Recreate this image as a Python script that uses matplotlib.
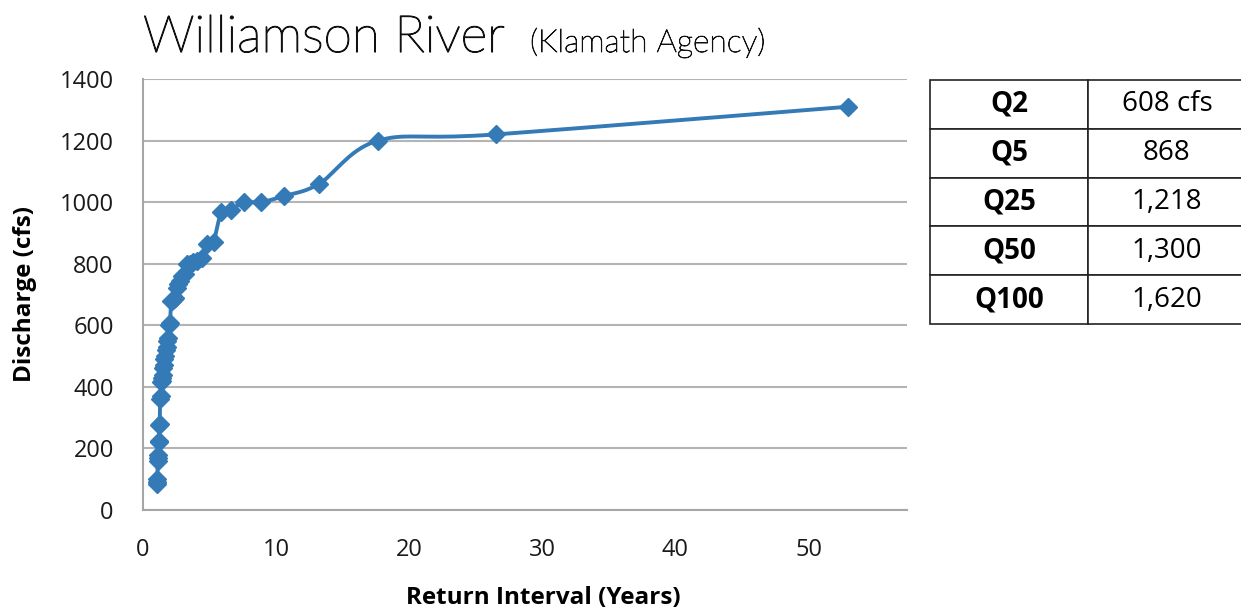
import numpy as np
import matplotlib.pyplot as plt
import matplotlib.patheffects as pe

# return interval (years) and annual peak discharge (cfs)
interval = [53.0, 26.5, 17.67, 13.25, 10.6, 8.83, 7.57, 6.63, 5.89, 5.3,
            4.82, 4.42, 4.08, 3.79, 3.53, 3.31, 3.12, 2.94, 2.79, 2.65,
            2.52, 2.41, 2.30, 2.21, 2.12, 2.04, 1.96, 1.89, 1.83, 1.77,
            1.71, 1.66, 1.61, 1.56, 1.51, 1.47, 1.43, 1.39, 1.36, 1.325,
            1.29, 1.26, 1.23, 1.20, 1.18, 1.15, 1.13, 1.10, 1.08, 1.06, 1.04]
discharge = [1310, 1220, 1200, 1060, 1020, 1000, 1000, 975, 968, 870,
             865, 820, 810, 805, 800, 800, 765, 760, 745, 735,
             720, 690, 685, 680, 680, 608, 600, 560, 550, 530,
             520, 500, 490, 470, 460, 440, 430, 420, 415, 370,
             360, 280, 275, 225, 220, 180, 170, 160, 100, 90, 85]

table_labels = ["Q2", "Q5", "Q25", "Q50", "Q100"]
table_values = ["608 cfs", "868", "1,218", "1,300", "1,620"]

blue = "#337ab7"
plt.rcParams["font.family"] = ["Open Sans", "DejaVu Sans"]


def smooth(x, y, n=20):
    # catmull-rom curve through the points, like excel's smoothed line
    x = np.asarray(x, float)
    y = np.asarray(y, float)
    px = np.concatenate([[x[0]], x, [x[-1]]])
    py = np.concatenate([[y[0]], y, [y[-1]]])
    t = np.linspace(0, 1, n)[:, None]
    out_x, out_y = [], []
    for i in range(1, len(px) - 2):
        for p, out in ((px, out_x), (py, out_y)):
            p0, p1, p2, p3 = p[i - 1], p[i], p[i + 1], p[i + 2]
            seg = 0.5 * ((2 * p1) + (-p0 + p2) * t
                         + (2 * p0 - 5 * p1 + 4 * p2 - p3) * t ** 2
                         + (-p0 + 3 * p1 - 3 * p2 + p3) * t ** 3)
            out.extend(seg.ravel())
    return out_x, out_y


fig = plt.figure(figsize=(12.41, 6.12), dpi=100)
ax = fig.add_axes([143 / 1241, 102 / 612, 764 / 1241, 431 / 612])

sx, sy = smooth(interval, discharge)
ax.plot(sx, sy, color=blue, lw=2.8, zorder=3)
ax.plot(interval, discharge, "D", color=blue, ms=9.5, zorder=4)

ax.set_xlim(0, 57.4)
ax.set_ylim(0, 1400)
ax.set_xticks(range(0, 60, 10))
ax.set_yticks(range(0, 1600, 200))
ax.grid(axis="y", color="#b4b4b4", lw=1.5)
ax.set_axisbelow(True)
for s in ("top", "right"):
    ax.spines[s].set_visible(False)
for s in ("left", "bottom"):
    ax.spines[s].set_color("#a6a6a6")
    ax.spines[s].set_linewidth(1.5)
ax.tick_params(length=0, labelsize=17, colors="#1a1a1a")
ax.tick_params(axis="x", pad=20)
ax.tick_params(axis="y", pad=21)

ax.set_xlabel("Return Interval (Years)", fontsize=17.5, fontweight="bold")
ax.set_ylabel("Discharge (cfs)", fontsize=17.5, fontweight="bold")
ax.xaxis.set_label_coords(0.5236, -0.204)
ax.xaxis.label.set_va("center")
ax.yaxis.set_label_coords(-0.155, 0.5)
ax.yaxis.label.set_va("center")

thicken = [pe.withStroke(linewidth=0.9, foreground="#111111")]
fig.text(143 / 1241, 1 - 52 / 612, "Williamson River", fontsize=37,
         family="Lato", fontweight="light", color="#111111", path_effects=thicken)
fig.text(530 / 1241, 1 - 52 / 612, "(Klamath Agency)", fontsize=23,
         family="Lato", fontweight="light", color="#111111",
         path_effects=[pe.withStroke(linewidth=0.6, foreground="#111111")])

tab_ax = fig.add_axes([930 / 1241, 1 - 324 / 612, 316 / 1241, 244 / 612])
tab_ax.axis("off")
tab = tab_ax.table(cellText=[[a, b] for a, b in zip(table_labels, table_values)],
                   cellLoc="center", bbox=[0, 0, 1, 1], colWidths=[0.5, 0.5])
tab.auto_set_font_size(False)
for (r, c), cell in tab.get_celld().items():
    cell.set_linewidth(1.2)
    cell.set_edgecolor("#222222")
    cell.get_text().set_fontsize(20)
    if c == 0:
        cell.get_text().set_fontweight("bold")

fig.savefig("out.png", dpi=100)
